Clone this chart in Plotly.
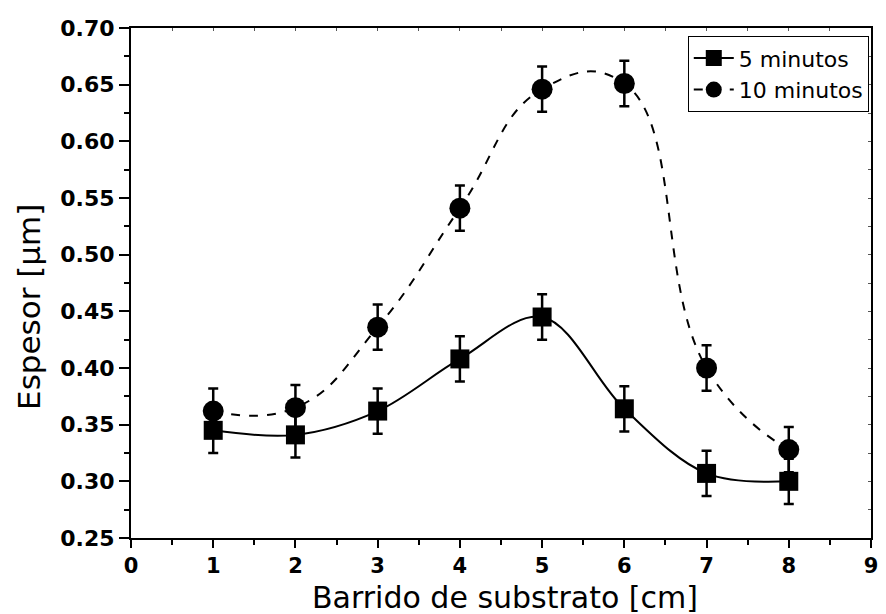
import plotly.graph_objects as go

x_vals = [1, 2, 3, 4, 5, 6, 7, 8]
y_5min = [0.345, 0.341, 0.362, 0.408, 0.445, 0.364, 0.307, 0.300]
y_10min = [0.362, 0.365, 0.436, 0.541, 0.646, 0.651, 0.400, 0.328]
err_5min = [0.02] * 8
err_10min = [0.02] * 8

FONT = "DejaVu Sans, Arial, sans-serif"

fig = go.Figure()
fig.add_trace(go.Scatter(
    x=x_vals, y=y_5min, name="5 minutos", mode="lines+markers",
    line=dict(color="black", width=2, shape="spline", smoothing=1.0),
    marker=dict(symbol="square", size=19, color="black"),
    error_y=dict(type="data", array=err_5min, color="black", thickness=2.5, width=5),
))
fig.add_trace(go.Scatter(
    x=x_vals, y=y_10min, name="10 minutos", mode="lines+markers",
    line=dict(color="black", width=2, dash="dash", shape="spline", smoothing=1.3),
    marker=dict(symbol="circle", size=21, color="black"),
    error_y=dict(type="data", array=err_10min, color="black", thickness=2.5, width=5),
))
# invisible trace for the mirrored (top/right) axes
fig.add_trace(go.Scatter(x=[0], y=[0.25], xaxis="x2", yaxis="y2", mode="markers",
                         marker=dict(opacity=0), showlegend=False, hoverinfo="skip"))

fig.update_layout(
    width=886, height=614,
    margin=dict(l=131, r=8, t=28, b=76),
    paper_bgcolor="white", plot_bgcolor="white",
    font=dict(family=FONT, color="black"),
    showlegend=True,
    legend=dict(x=0.997, y=0.984, xanchor="right", yanchor="top",
                bordercolor="black", borderwidth=1, bgcolor="white",
                font=dict(size=22, family=FONT), tracegroupgap=0,
                itemwidth=40),
    xaxis=dict(range=[0, 9], dtick=1, tick0=0, showgrid=False, zeroline=False,
               showline=True, linecolor="black", linewidth=2,
               ticks="outside", ticklen=8, tickwidth=2, tickcolor="black",
               minor=dict(dtick=0.5, ticks="outside", ticklen=5, tickwidth=1.5, tickcolor="black"),
               tickfont=dict(size=21, family=FONT, weight="bold")),
    yaxis=dict(range=[0.25, 0.70], dtick=0.05, tick0=0.25, tickformat=".2f",
               showgrid=False, zeroline=False,
               showline=True, linecolor="black", linewidth=2,
               ticks="outside", ticklen=10, tickwidth=2, tickcolor="black",
               minor=dict(dtick=0.025, ticks="outside", ticklen=5, tickwidth=1.5, tickcolor="black"),
               tickfont=dict(size=22, family=FONT, weight="bold")),
    xaxis2=dict(range=[0, 9], overlaying="x", side="top", showticklabels=False,
                showgrid=False, zeroline=False, showline=True, linecolor="black", linewidth=1.5,
                dtick=0.5, ticks="inside", ticklen=3, tickwidth=1, tickcolor="#555"),
    yaxis2=dict(range=[0.25, 0.70], overlaying="y", side="right", showticklabels=False,
                showgrid=False, zeroline=False, showline=True, linecolor="black", linewidth=1.5,
                dtick=0.025, tick0=0.25, ticks="inside", ticklen=3, tickwidth=1, tickcolor="#555"),
    annotations=[
        dict(text="Barrido de substrato [cm]", xref="paper", yref="paper",
             x=0.506, y=-0.116, xanchor="center", yanchor="middle", showarrow=False,
             font=dict(size=30, family=FONT)),
        dict(text="Espesor [μm]", xref="paper", yref="paper", textangle=-90,
             x=-0.1379, y=0.453, xanchor="center", yanchor="middle", showarrow=False,
             font=dict(size=31, family=FONT)),
    ],
)

fig.write_html("out.html", config={"displayModeBar": False},
               post_script="document.body.style.margin='0';document.body.style.padding='0';")
